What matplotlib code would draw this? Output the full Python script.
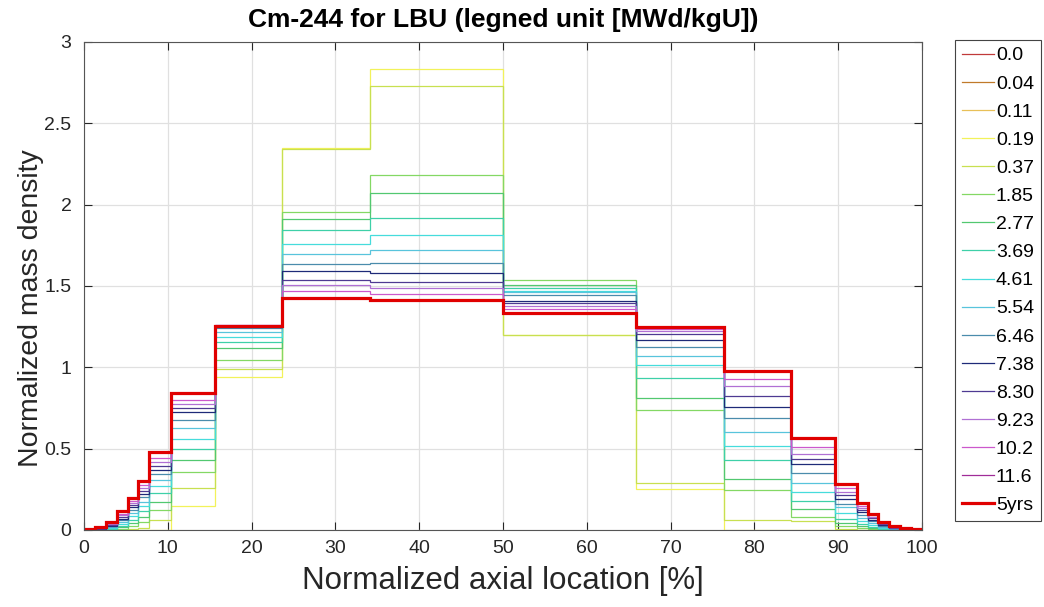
import numpy as np
import matplotlib
matplotlib.use("Agg")
import matplotlib.pyplot as plt

plt.rcParams["font.family"] = ["Liberation Sans", "DejaVu Sans"]

nan = float("nan")

# axial node boundaries [% of active height]
edges = [0, 1.3, 2.6, 3.9, 5.2, 6.5, 7.8, 10.4, 15.6, 23.6, 34.1, 50,
         65.9, 76.4, 84.4, 89.6, 92.2, 93.5, 94.8, 96.1, 97.4, 98.7, 100]

# normalized Cm-244 mass density per node, one list per burnup step [MWd/kgU]
bu_0_00 = [nan] * 22
bu_0_04 = [nan] * 22
bu_0_11 = [nan] * 22
bu_0_19 = [0, 0, 0, 0, 0, 0, 0, 0.149, 0.942, 2.350, 2.832, 1.201,
           0.250, 0.0, 0, 0, 0, 0, 0, 0, 0, 0]
bu_0_37 = [0, 0, 0, 0.002, 0.005, 0.015, 0.060, 0.260, 0.992, 2.345, 2.729, 1.199,
           0.291, 0.061, 0.055, 0.008, 0.002, 0, 0, 0, 0, 0]
bu_1_85 = [0, 0, 0.002, 0.008, 0.022, 0.050, 0.125, 0.355, 1.045, 1.957, 2.180, 1.535,
           0.736, 0.246, 0.080, 0.025, 0.010, 0.005, 0.002, 0.001, 0, 0]
bu_2_77 = [0, 0.001, 0.005, 0.016, 0.040, 0.080, 0.175, 0.430, 1.117, 1.913, 2.071, 1.508,
           0.811, 0.311, 0.127, 0.045, 0.022, 0.011, 0.005, 0.002, 0, 0]
bu_3_69 = [0.0005, 0.002, 0.008, 0.026, 0.062, 0.115, 0.225, 0.500, 1.158, 1.842, 1.921, 1.487,
           0.936, 0.428, 0.181, 0.070, 0.038, 0.020, 0.009, 0.003, 0.001, 0]
bu_4_61 = [0.001, 0.003, 0.012, 0.036, 0.083, 0.145, 0.270, 0.559, 1.188, 1.756, 1.811, 1.470,
           1.012, 0.514, 0.232, 0.102, 0.055, 0.030, 0.014, 0.005, 0.002, 0]
bu_5_54 = [0.0015, 0.005, 0.017, 0.048, 0.103, 0.175, 0.310, 0.625, 1.219, 1.699, 1.720, 1.465,
           1.071, 0.600, 0.291, 0.139, 0.075, 0.042, 0.020, 0.008, 0.003, 0.001]
bu_6_46 = [0.002, 0.007, 0.022, 0.060, 0.122, 0.200, 0.345, 0.674, 1.240, 1.638, 1.644, 1.442,
           1.127, 0.688, 0.352, 0.160, 0.090, 0.053, 0.026, 0.010, 0.004, 0.001]
bu_7_38 = [0.003, 0.009, 0.027, 0.070, 0.140, 0.222, 0.370, 0.727, 1.250, 1.592, 1.579, 1.408,
           1.166, 0.758, 0.404, 0.188, 0.108, 0.064, 0.032, 0.013, 0.005, 0.002]
bu_8_30 = [0.004, 0.011, 0.032, 0.080, 0.153, 0.240, 0.393, 0.752, 1.255, 1.539, 1.523, 1.393,
           1.203, 0.822, 0.438, 0.215, 0.124, 0.074, 0.037, 0.015, 0.006, 0.002]
bu_9_23 = [0.005, 0.013, 0.036, 0.090, 0.167, 0.258, 0.415, 0.776, 1.258, 1.504, 1.487, 1.377,
           1.225, 0.883, 0.467, 0.236, 0.136, 0.082, 0.042, 0.017, 0.007, 0.003]
bu_10_2 = [0.006, 0.015, 0.040, 0.100, 0.180, 0.275, 0.440, 0.799, 1.260, 1.467, 1.451, 1.360,
           1.238, 0.928, 0.512, 0.256, 0.148, 0.090, 0.046, 0.019, 0.008, 0.003]
bu_11_6 = [0.007, 0.018, 0.047, 0.114, 0.197, 0.303, 0.479, 0.840, 1.256, 1.429, 1.416, 1.333,
           1.246, 0.977, 0.566, 0.284, 0.164, 0.100, 0.052, 0.022, 0.010, 0.004]
cooled_5yrs = [0.007, 0.018, 0.047, 0.114, 0.197, 0.303, 0.479, 0.840, 1.256, 1.429, 1.416, 1.333,
               1.246, 0.977, 0.566, 0.284, 0.164, 0.100, 0.052, 0.022, 0.010, 0.004]

labels = ["0.0", "0.04", "0.11", "0.19", "0.37", "1.85", "2.77", "3.69", "4.61",
          "5.54", "6.46", "7.38", "8.30", "9.23", "10.2", "11.6", "5yrs"]
colors = ["#c03a3a", "#c07a2a", "#e8c058", "#f2f25a", "#c8e050", "#84d864", "#52c870",
          "#3ed0a8", "#46dcdc", "#58c4dc", "#4a8cac", "#1e2a78", "#4e3a92", "#b070d4",
          "#cc58cc", "#a02c98", "#e00000"]
profiles = [bu_0_00, bu_0_04, bu_0_11, bu_0_19, bu_0_37, bu_1_85, bu_2_77, bu_3_69,
            bu_4_61, bu_5_54, bu_6_46, bu_7_38, bu_8_30, bu_9_23, bu_10_2, bu_11_6,
            cooled_5yrs]

fig = plt.figure(figsize=(10.44, 6.07), dpi=100)
ax = fig.add_axes([84 / 1044, 1 - 530 / 607, (922 - 84) / 1044, (530 - 42) / 607])

handles = []
for prof, lab, col in zip(profiles, labels, colors):
    lw = 2.3 if lab == "5yrs" else 0.9
    h = ax.stairs(np.array(prof, dtype=float), edges, baseline=None,
                  color=col, linewidth=lw, label=lab)
    handles.append(h)

ax.set_xlim(0, 100)
ax.set_ylim(0, 3)
ax.set_xticks(np.arange(0, 101, 10))
ax.set_yticks([0, 0.5, 1, 1.5, 2, 2.5, 3])
ax.set_yticklabels(["0", "0.5", "1", "1.5", "2", "2.5", "3"])
ax.grid(True, color="#e0e0e0", linewidth=0.9)
ax.set_axisbelow(True)
ax.tick_params(direction="in", length=6, width=0.8, top=True, right=True,
               labelsize=14, colors="#262626")
ax.tick_params(axis="x", pad=7)
ax.tick_params(axis="y", pad=9)
for s in ax.spines.values():
    s.set_color("#555555")
    s.set_linewidth(0.8)
    s.set_zorder(5)

ax.set_xlabel("Normalized axial location [%]", fontsize=22.5, color="#262626", labelpad=7)
ax.set_ylabel("Normalized mass density", fontsize=20.5, color="#262626")
ax.yaxis.set_label_coords(-0.048, 0.455)
ax.set_title("Cm-244 for LBU (legned unit [MWd/kgU])", fontsize=19,
             fontweight="bold", color="#000000", pad=11)

leg = ax.legend(handles=handles, loc="upper left",
                bbox_to_anchor=(955 / 1044, 1 - 40 / 607), bbox_transform=fig.transFigure,
                borderaxespad=0, fontsize=14, handlelength=1.65, handletextpad=0.1,
                labelspacing=0.54, borderpad=0.35, fancybox=False, framealpha=1)
leg.get_frame().set_edgecolor("#444444")
leg.get_frame().set_linewidth(0.8)

fig.savefig("out.png", dpi=100)
